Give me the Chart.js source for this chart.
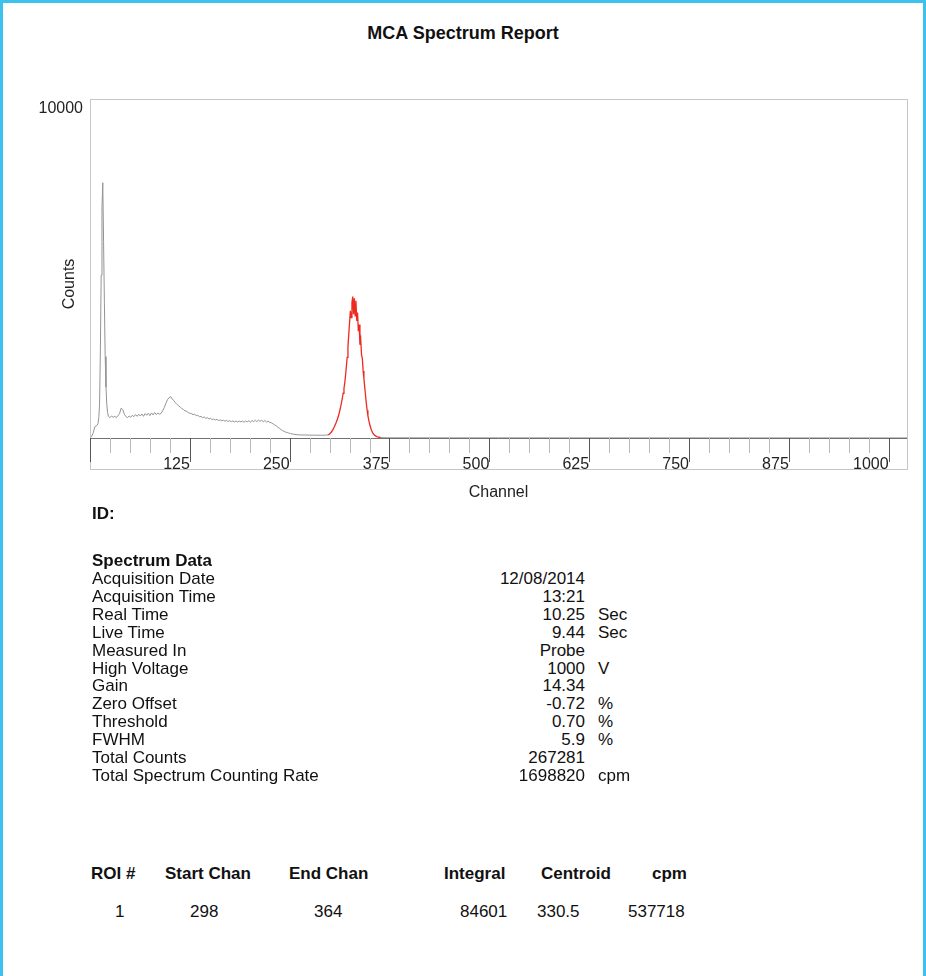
<!DOCTYPE html>
<html>
<head>
<meta charset="utf-8">
<script src="https://cdn.jsdelivr.net/npm/chart.js@4.4.0/dist/chart.umd.min.js"></script>
<style>
  body { margin: 0; background: #fff; font-family: "Liberation Sans", Arial, sans-serif; color: #111; }
  #page { position: relative; width: 926px; height: 976px; overflow: hidden; }
  #frame { position: absolute; left: 0; top: 0; width: 926px; height: 976px; box-sizing: border-box;
           border: 3px solid #3dc2ee; border-bottom: none; pointer-events: none; }
  #title { position: absolute; left: 0; width: 926px; top: 23px; text-align: center; font-weight: bold; font-size: 18px; }
  #chartBox { position: absolute; left: 0; top: 80px; width: 926px; height: 440px; }
  .t { position: absolute; font-size: 17px; line-height: 18px; white-space: nowrap; }
  .b { font-weight: bold; }
  .r { text-align: right; width: 120px; }
</style>
</head>
<body>
<div id="page">
  <div id="title">MCA Spectrum Report</div>
  <div id="chartBox"><canvas id="spec" width="926" height="440"></canvas></div>
  <div id="report"></div>
  <div id="frame"></div>
</div>
<script>
// spectrum (channel, counts)
const channels = [
  0, 2, 4, 6, 8, 10, 11, 12, 13, 14, 15, 16, 17, 18, 19, 20, 21, 22, 23,
  25, 27, 29, 31, 33, 35, 37, 39, 41, 43, 45, 47, 49, 51, 53, 55, 57, 59, 61, 63,
  65, 67, 69, 71, 73, 75, 77, 79, 81, 83, 85, 87, 89, 91, 93, 95, 97, 99,
  101, 103, 105, 107, 109, 111, 113, 115, 117, 119, 121, 123, 125, 127, 129, 131, 133, 135, 137, 139,
  141, 143, 145, 147, 149, 151, 153, 155, 157, 159, 161, 163, 165, 167, 169, 171, 173, 175, 177, 179,
  181, 183, 185, 187, 189, 191, 193, 195, 197, 199, 201, 203, 205, 207, 209, 211, 213, 215, 217, 219,
  221, 223, 225, 227, 229, 231, 233, 235, 237, 239, 241, 243, 245, 247, 249, 251, 253, 255,
  258, 262, 266, 270, 275, 280, 285, 290, 295, 298,
  300, 302, 304, 306, 308, 310, 312, 314, 316, 317, 318, 319, 320, 321, 322, 323, 324, 325,
  326, 327, 328, 329, 330, 331, 332, 333, 334, 335, 336, 337, 338, 339, 340, 341, 342, 343,
  344, 345, 346, 347, 348, 350, 352, 354, 356, 358, 360, 362, 364,
  368, 376, 400, 450, 500, 600, 700, 800, 900, 1000, 1023
];
const counts = [
  0, 40, 150, 330, 360, 420, 600, 1000, 2600, 4800, 6800, 7530, 5800, 4000, 2400, 1500, 1000, 760, 640,
  600, 650, 610, 640, 600, 660, 720, 880, 840, 700, 630, 600, 650, 610, 670, 630, 690, 640, 700, 650,
  710, 640, 720, 670, 730, 660, 740, 680, 750, 690, 740, 700, 730, 800, 900, 1020, 1130, 1190,
  1220, 1150, 1100, 1040, 990, 950, 910, 870, 840, 800, 790, 750, 730, 720, 690, 700, 660, 670, 630, 640,
  600, 620, 580, 600, 560, 580, 540, 560, 530, 550, 515, 535, 505, 525, 495, 520, 490, 510, 480, 505,
  475, 500, 470, 495, 475, 500, 465, 505, 475, 510, 470, 515, 480, 525, 485, 530, 490, 525, 480, 515,
  470, 500, 460, 450, 420, 390, 360, 320, 290, 250, 220, 195, 175, 160, 145, 130, 120, 110,
  100, 92, 90, 88, 86, 84, 82, 82, 84, 90,
  120, 170, 240, 330, 440, 570, 730, 930, 1180, 1320, 1460, 1620, 1850, 2100, 2380, 2700, 3050, 3400,
  3750, 3550, 4000, 4170, 3650, 4120, 3600, 4050, 3450, 3700, 3150, 3350, 2750, 2900, 2450, 2350, 1980, 1750,
  1500, 1260, 1020, 820, 650, 420, 260, 150, 90, 55, 35, 22, 12,
  8, 6, 5, 4, 4, 3, 3, 2, 2, 2, 2
];
const roiStart = 298;
const roiEnd = 364;
const chanMax = 1023;
const countMax = 10000;
const labelStep = 125;
const minorStep = 25;

// report text
const infoLabels = ["Acquisition Date", "Acquisition Time", "Real Time", "Live Time", "Measured In",
  "High Voltage", "Gain", "Zero Offset", "Threshold", "FWHM", "Total Counts", "Total Spectrum Counting Rate"];
const infoValues = ["12/08/2014", "13:21", "10.25", "9.44", "Probe", "1000", "14.34", "-0.72", "0.70", "5.9", "267281", "1698820"];
const infoUnits = ["", "", "Sec", "Sec", "", "V", "", "%", "%", "%", "", "cpm"];
const roiHeaders = ["ROI #", "Start Chan", "End Chan", "Integral", "Centroid", "cpm"];
const roiRow = ["1", "298", "364", "84601", "330.5", "537718"];

const grayPts = channels.map((c, i) => ({ x: c, y: (c > roiStart && c < roiEnd) ? null : counts[i] }));
const redPts = channels.map((c, i) => ({ x: c, y: counts[i] })).filter(p => p.x >= roiStart && p.x <= roiEnd);

const framePlugin = {
  id: "frame",
  afterDraw(chart) {
    const { ctx, chartArea: { left, right, top, bottom }, scales: { x } } = chart;
    ctx.save();
    ctx.lineWidth = 1;
    ctx.strokeStyle = "#c6c6c6";
    ctx.strokeRect(left + 0.5, top + 0.5, right - left, bottom + 31 - top);
    ctx.strokeStyle = "#707070";
    ctx.beginPath();
    ctx.moveTo(left, bottom + 0.5);
    ctx.lineTo(right, bottom + 0.5);
    ctx.stroke();
    for (let v = 0; v <= 1000; v += minorStep) {
      const px = Math.round(x.getPixelForValue(v)) + 0.5;
      const major = v % labelStep === 0;
      ctx.strokeStyle = major ? "#555" : "#b8b8b8";
      ctx.beginPath();
      ctx.moveTo(px, bottom);
      ctx.lineTo(px, bottom + (major ? 24 : 15));
      ctx.stroke();
    }
    ctx.translate(70, (top + bottom + 31) / 2);
    ctx.rotate(-Math.PI / 2);
    ctx.fillStyle = "#222";
    ctx.font = '16px "Liberation Sans", Arial, sans-serif';
    ctx.textAlign = "center";
    ctx.textBaseline = "middle";
    ctx.fillText("Counts", 0, 0);
    ctx.restore();
  }
};

new Chart(document.getElementById("spec").getContext("2d"), {
  type: "line",
  data: {
    datasets: [
      { label: "ROI", data: redPts, borderColor: "#ec2a22", borderWidth: 1.3 },
      { label: "Spectrum", data: grayPts, borderColor: "#939393", borderWidth: 1 }
    ]
  },
  options: {
    responsive: false,
    animation: false,
    events: [],
    elements: { point: { radius: 0 }, line: { tension: 0 } },
    layout: { padding: { left: 0, right: 19, top: 19, bottom: 0 } },
    plugins: { legend: { display: false }, tooltip: { enabled: false } },
    scales: {
      x: {
        type: "linear",
        min: 0,
        max: chanMax,
        afterFit: (s) => { s.height = 82; },
        grid: { display: false, drawTicks: false },
        border: { display: false },
        ticks: {
          stepSize: minorStep,
          includeBounds: false,
          autoSkip: false,
          maxRotation: 0,
          align: "end",
          padding: 17,
          color: "#222",
          font: { family: '"Liberation Sans", Arial, sans-serif', size: 16 },
          callback: (v) => (v > 0 && v % labelStep === 0) ? String(v) : ""
        },
        title: {
          display: true,
          text: "Channel",
          color: "#222",
          padding: { top: 0, bottom: 18 },
          font: { family: '"Liberation Sans", Arial, sans-serif', size: 16 }
        }
      },
      y: {
        type: "linear",
        min: 0,
        max: countMax,
        afterFit: (s) => { s.width = 90; },
        afterBuildTicks: (s) => { s.ticks = [{ value: countMax }]; },
        grid: { display: false, drawTicks: false },
        border: { display: false },
        ticks: {
          padding: 7,
          labelOffset: 10,
          color: "#222",
          font: { family: '"Liberation Sans", Arial, sans-serif', size: 16 },
          callback: (v) => String(v)
        }
      }
    }
  },
  plugins: [framePlugin]
});

// report below the chart
const report = document.getElementById("report");
function put(text, left, midY, cls, alignRight) {
  const d = document.createElement("div");
  d.className = "t " + (cls || "") + (alignRight ? " r" : "");
  d.textContent = text;
  d.style.left = (alignRight ? left - 120 : left) + "px";
  d.style.top = (midY - 9) + "px";
  report.appendChild(d);
}
put("ID:", 92, 514, "b");
put("Spectrum Data", 92, 561, "b");
infoLabels.forEach((lab, i) => {
  const y = 579 + i * 17.9;
  put(lab, 92, y);
  put(infoValues[i], 585, y, "", true);
  if (infoUnits[i]) put(infoUnits[i], 598, y);
});
const headX = [91, 165, 289, 444, 541, 652];
const rowX = [115, 190, 314, 460, 537, 628];
roiHeaders.forEach((h, i) => put(h, headX[i], 874, "b"));
roiRow.forEach((v, i) => put(v, rowX[i], 912));
</script>
</body>
</html>
